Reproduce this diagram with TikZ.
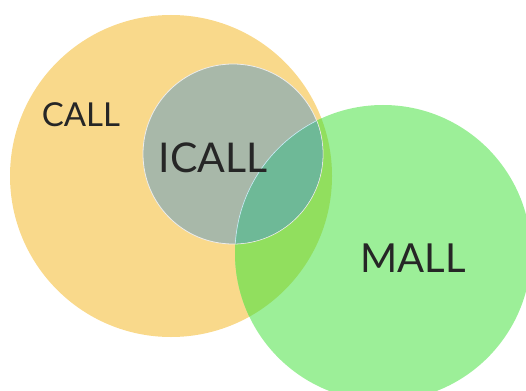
\documentclass[tikz,border=0pt]{standalone}
\usepackage{fontspec}
\setmainfont{Lato}
\usepackage{xcolor}
\definecolor{callorange}{HTML}{F9D98B}
\definecolor{mallgreen}{HTML}{9CEF98}
\definecolor{bothgreen}{HTML}{91DF5E}
\definecolor{icallgrey}{HTML}{A8B8A9}
\definecolor{icallmall}{HTML}{6EB997}
\tikzset{
  set/.style={circle, inner sep=0pt, minimum size=#1},
  setlabel/.style={font=\fontsize{33}{33}\selectfont, text=black!85, inner sep=0pt}
}

\begin{document}
\begin{tikzpicture}[x=1pt, y=-1pt]
      \useasboundingbox (0,0) rectangle (526,390);
      % the three sets
      \node[set=322pt, fill=callorange] (call) at (171,176) {};
      \node[set=296pt, fill=mallgreen] (mall) at (383,253) {};
      \begin{scope}
        \clip (call.center) circle[radius=161pt];
        \fill[bothgreen] (mall.center) circle[radius=148pt];
      \end{scope}
      \node[set=180pt, fill=icallgrey, draw=white!85!gray, line width=0.8pt] (icall) at (233,154) {};
      \begin{scope}
        \clip (icall.center) circle[radius=89.6pt];
        \fill[icallmall] (mall.center) circle[radius=148pt];
        \draw[cyan!20!white, line width=0.6pt] (mall.center) circle[radius=148pt];
      \end{scope}

      % labels
      \node[setlabel] (calltext) at (81,115) {CALL};
      \node[setlabel, font=\fontsize{41}{41}\selectfont] (icalltext) at (213,158) {ICALL};
      \node[setlabel, font=\fontsize{40}{40}\selectfont] (malltext) at (413,258) {MALL};
\end{tikzpicture}
\end{document}
